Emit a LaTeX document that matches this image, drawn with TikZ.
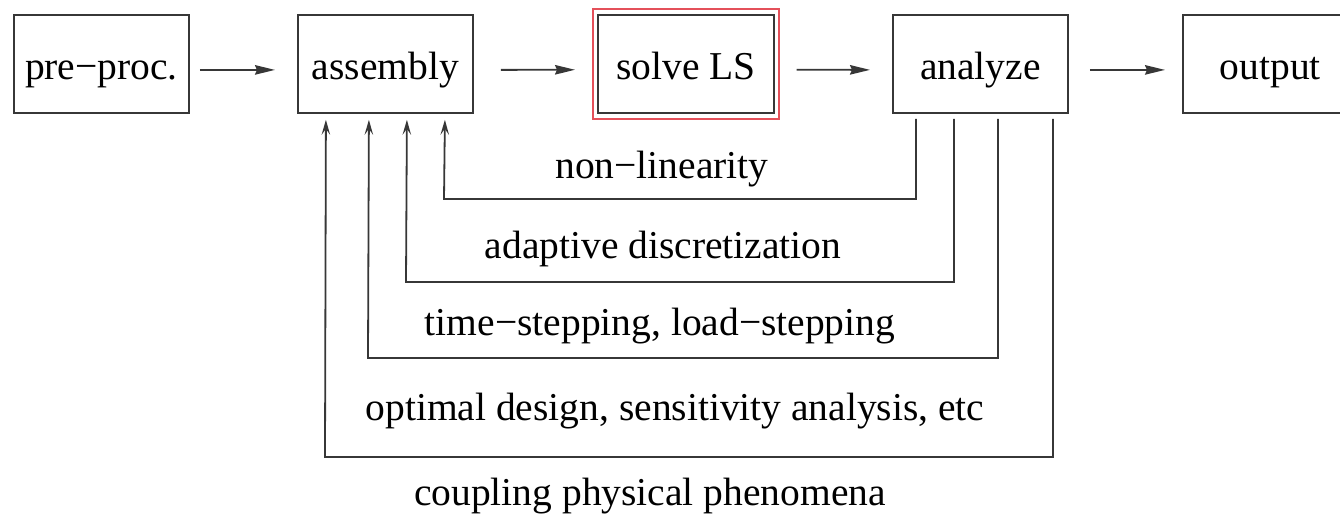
\documentclass[tikz,border=0pt]{standalone}
\usepackage{fontspec}
\setmainfont{Liberation Serif}
\usetikzlibrary{arrows.meta}
\definecolor{lc}{RGB}{55,55,55}
\definecolor{redline}{RGB}{228,80,90}
\begin{document}
\begin{tikzpicture}[x=1pt,y=-1pt,
  font=\fontsize{39.5}{47}\selectfont,
  box/.style={draw=lc,line width=1.8pt,minimum width=175pt,minimum height=98pt,
    inner sep=0pt,text height=38pt,text depth=6pt,anchor=north west},
  flow/.style={draw=lc,line width=1.8pt,-{Stealth[length=20pt,width=9.5pt,inset=2pt]}},
  fb/.style={draw=lc,line width=1.8pt,-{Stealth[length=15pt,width=8.5pt,inset=6pt]}},
  lbl/.style={anchor=base,inner sep=0pt}]
\clip (0,0) rectangle (1340,515);
\node[box] (pre) at (13,14) {pre−proc.};
\node[box] (asm) at (297,14) {assembly};
\node[box,minimum width=176pt] (sol) at (597,14) {solve LS};
\node[draw=redline,line width=1.5pt,inner sep=0pt,minimum width=186pt,minimum height=110pt,anchor=north west] (solred) at (592,8) {};
\node[box] (ana) at (892,14) {analyze};
\node[box] (out) at (1182,14) {output};
\draw[flow,shorten <=10pt,shorten >=22pt] ([yshift=-6pt]pre.east) -- ([yshift=-6pt]asm.west);
\draw[flow,shorten <=27pt,shorten >=17pt] ([yshift=-6pt]asm.east) -- ([yshift=-6pt]solred.west);
\draw[flow,shorten <=17pt,shorten >=22pt] ([yshift=-6pt]solred.east) -- ([yshift=-6pt]ana.west);
\draw[flow,shorten <=21pt,shorten >=17pt] ([yshift=-6pt]ana.east) -- ([yshift=-6pt]out.west);
\draw[fb] ([xshift=-64.5pt,yshift=-5pt]ana.south) |- (444,199) -- ([xshift=59.5pt,yshift=-6pt]asm.south);
\draw[fb] ([xshift=-26.5pt,yshift=-5pt]ana.south) |- (406,282) -- ([xshift=21.5pt,yshift=-6pt]asm.south);
\draw[fb] ([xshift=17.5pt,yshift=-5pt]ana.south) |- (368,358) -- ([xshift=-16.5pt,yshift=-6pt]asm.south);
\draw[fb] ([xshift=72.5pt,yshift=-5pt]ana.south) |- (325,457) -- ([xshift=-59.5pt,yshift=-6pt]asm.south);
\node[lbl] (l1) at (662,178) {non−linearity};
\node[lbl] (l2) at (663,258) {adaptive discretization};
\node[lbl] (l3) at (660,335) {time−stepping, load−stepping};
\node[lbl] (l4) at (675,420) {optimal design, sensitivity analysis, etc};
\node[lbl] (l5) at (650,505) {coupling physical phenomena};
\end{tikzpicture}
\end{document}
